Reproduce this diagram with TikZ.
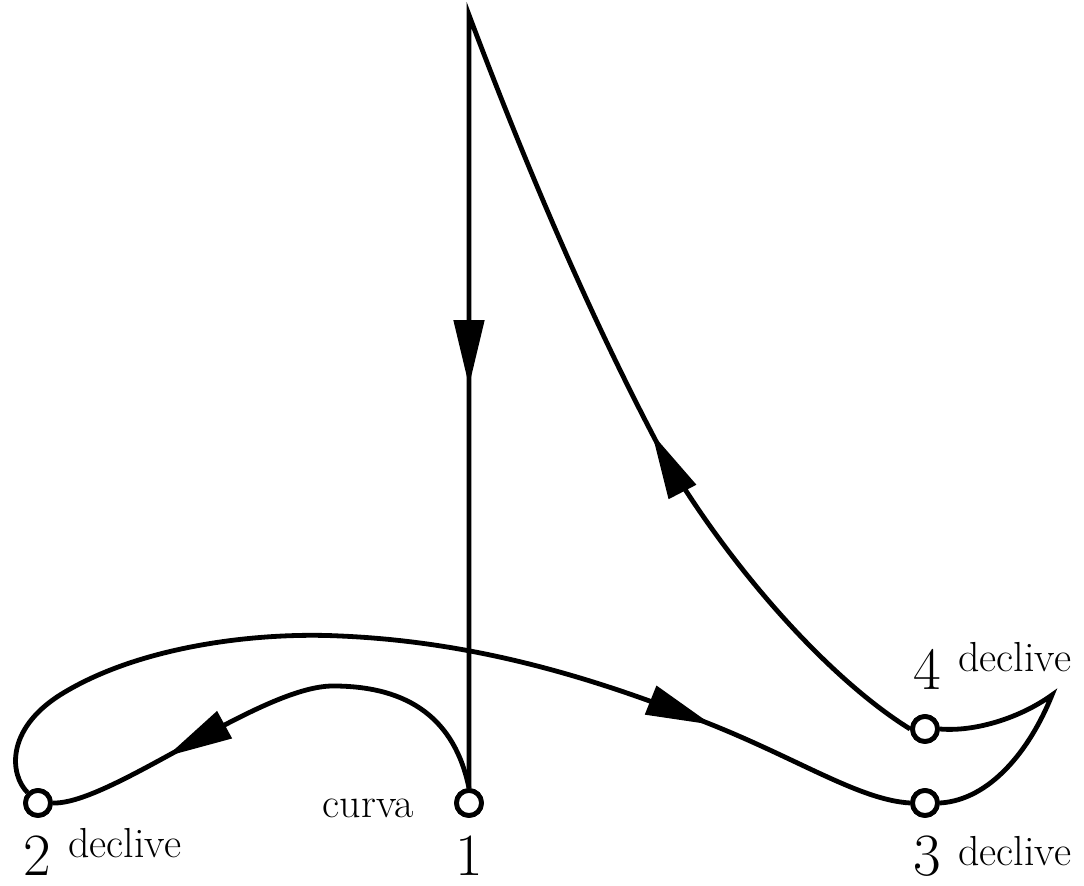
\documentclass[tikz,border=0pt]{standalone}
\usetikzlibrary{arrows.meta,decorations.markings}
\begin{document}
\begin{tikzpicture}[x=0.5pt,y=-0.5pt,
  line/.style={line width=2.4pt,line join=miter,miter limit=12},
  dot/.style={circle,draw,fill=white,line width=2.4pt,minimum size=12.5pt,inner sep=0pt},
  digit/.style={font=\fontsize{30}{34}\selectfont,inner sep=0pt,anchor=base},
  lab/.style={font=\fontsize{21}{24}\selectfont,inner sep=0pt},
  tri/.tip={Triangle[length=33pt,width=15pt]},
  arrowsat/.style 2 args={postaction={decorate},decoration={markings,
    mark=at position #1 with {\arrow{tri}},
    mark=at position #2 with {\arrow{tri}}}},
  arrowat/.style={postaction={decorate},decoration={markings,
    mark=at position #1 with {\arrow{tri}}}}
]
\useasboundingbox (0,0) rectangle (1084,886);
\coordinate (top) at (469,15);
\node[dot] (n1) at (469,803) {};
\node[dot] (n2) at (38,803) {};
\node[dot] (n3) at (925,803) {};
\node[dot] (n4) at (925,729) {};
% slanted branch up to the top, then vertical down to 1
\draw[line,arrowsat={198pt}{-201pt}] (n4.west) .. controls (823,675) and (720,555) .. (657,443)
  .. controls (587,310) and (524,161) .. (top) -- (n1.north);
% curve 1 -> 2
\draw[line,arrowat=-62pt] (n1.north) .. controls (455,720) and (410,686) .. (333,686)
  .. controls (260,686) and (110,805) .. (n2.east);
% big loop 2 -> 3
\draw[line,arrowat=-107pt] (n2.135) .. controls (10,775) and (5,730) .. (60,695)
  .. controls (140,645) and (260,632) .. (340,636)
  .. controls (480,642) and (600,680) .. (710,724)
  .. controls (800,760) and (860,800) .. (n3.west);
% cusp 3 -> 4
\draw[line] (n3.east) .. controls (990,800) and (1030,750) .. (1052,695)
  .. controls (1020,718) and (975,732) .. (n4.east);
% dots on top
\node[dot] at (n1) {};
\node[dot] at (n2) {};
\node[dot] at (n3) {};
\node[dot] at (n4) {};
% labels
\node[digit] (t1) at (469,876) {1};
\node[digit] (t2) at (37,876) {2};
\node[digit] (t3) at (927,876) {3};
\node[digit] (t4) at (927,690) {4};
\node[lab,anchor=base west] (d2) at (68,858) {declive};
\node[lab,anchor=base west] (d3) at (958,866) {declive};
\node[lab,anchor=base west] (d4) at (958,672) {declive};
\node[lab,anchor=base east] (cv) at (414,818) {curva};
\end{tikzpicture}
\end{document}
